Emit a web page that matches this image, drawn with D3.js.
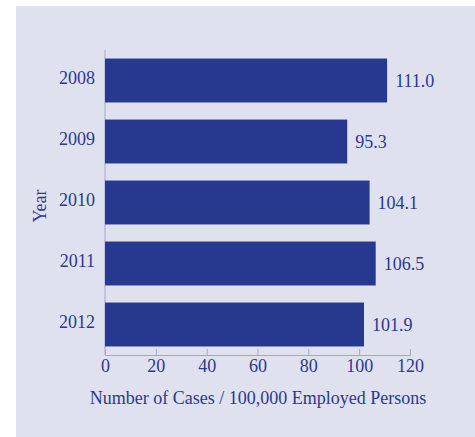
<!DOCTYPE html>
<html>
<head>
<meta charset="utf-8">
<script src="https://cdn.jsdelivr.net/npm/d3@7"></script>
<style>
  body { margin: 0; background: #fff; }
  text { font-family: "Liberation Serif", "DejaVu Serif", serif; fill: #2b3990; }
</style>
</head>
<body>
<svg id="chart" width="475" height="437"></svg>
<script>
// chart data
var years = ["2008", "2009", "2010", "2011", "2012"];
var rates = [111.0, 95.3, 104.1, 106.5, 101.9];
var xTicks = [0, 20, 40, 60, 80, 100, 120];

var svg = d3.select("#chart");

// light panel behind the chart
svg.append("rect")
    .attr("x", 16)
    .attr("y", 6)
    .attr("width", 459)
    .attr("height", 431)
    .attr("fill", "#dfe1ee");

var x = d3.scaleLinear().domain([0, 120]).range([105, 410]);
var y = d3.scaleBand().domain(years).range([50, 355])
    .paddingInner(0.28).paddingOuter(0.14);

// x axis, ticks point up into the plot
var xAxis = svg.append("g")
    .attr("transform", "translate(0,355)")
    .call(d3.axisBottom(x).tickValues(xTicks).tickSize(-6).tickPadding(4));
xAxis.select(".domain").attr("stroke", "#a3a7cc");
xAxis.selectAll(".tick line").attr("stroke", "#a3a7cc");
xAxis.selectAll(".tick text")
    .style("font-size", "18px")
    .attr("fill", "#2b3990");

// y axis line and year labels
var yAxis = svg.append("g")
    .attr("transform", "translate(105,0)")
    .call(d3.axisLeft(y).tickSize(0).tickPadding(10));
yAxis.select(".domain").attr("stroke", "#a3a7cc").attr("d", "M0,50V355");
yAxis.selectAll(".tick text")
    .style("font-size", "18px")
    .attr("dy", "0.2em")
    .attr("fill", "#2b3990");

// bars
svg.append("g")
    .selectAll("rect")
    .data(rates)
    .enter()
    .append("rect")
    .attr("x", x(0))
    .attr("y", function (d, i) { return y(years[i]); })
    .attr("width", function (d) { return x(d) - x(0); })
    .attr("height", y.bandwidth())
    .attr("fill", "#27388f");

// value labels
svg.append("g")
    .selectAll("text")
    .data(rates)
    .enter()
    .append("text")
    .attr("x", function (d) { return x(d) + 8; })
    .attr("y", function (d, i) { return y(years[i]) + y.bandwidth() / 2 + 6; })
    .style("font-size", "18px")
    .text(function (d) { return d.toFixed(1); });

// axis titles
svg.append("text")
    .attr("x", 258)
    .attr("y", 404)
    .attr("text-anchor", "middle")
    .style("font-size", "18px")
    .text("Number of Cases / 100,000 Employed Persons");

svg.append("text")
    .attr("transform", "translate(46,206) rotate(-90)")
    .attr("text-anchor", "middle")
    .style("font-size", "18px")
    .text("Year");
</script>
</body>
</html>
